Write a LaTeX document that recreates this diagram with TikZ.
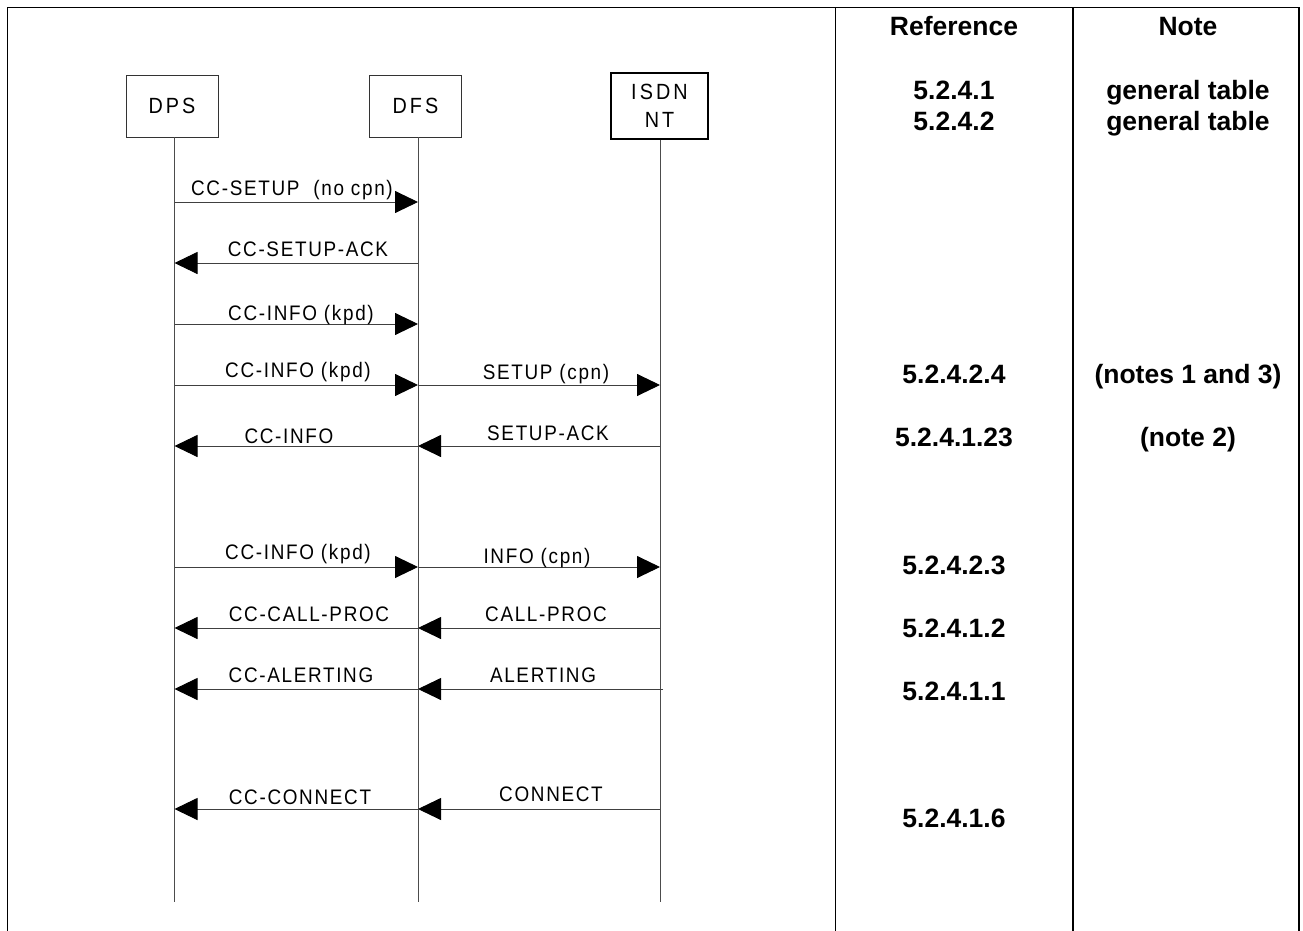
\documentclass[tikz,border=0pt]{standalone}
\usepackage{fontspec}
\setmainfont{Liberation Sans}
\newfontfamily\diag[FakeStretch=0.9,LetterSpace=8]{Liberation Sans}
\newfontfamily\boxfont[FakeStretch=0.9,LetterSpace=14]{Liberation Sans}
\usetikzlibrary{arrows.meta}
\begin{document}
\begin{tikzpicture}[x=1pt,y=-1pt,
  frame/.style={line width=1.6pt},
  life/.style={draw=black!70, line width=0.9pt},
  msg/.style={draw=black!75, line width=0.9pt, -{Triangle[length=23pt,width=22pt,fill=black,color=black]}},
  ent/.style={draw=black!80, line width=0.9pt, minimum width=92pt, minimum height=62pt, inner sep=0pt, font=\boxfont\fontsize{22}{27.5}\selectfont, align=center},
  lbl/.style={font=\diag\fontsize{21}{24}\selectfont, inner sep=0pt, text height=15pt, text depth=0pt},
  tbl/.style={font=\bfseries\fontsize{26.5}{30}\selectfont, inner sep=0pt, text height=19pt, text depth=0pt}]
\useasboundingbox (0,0) rectangle (1303,931);
% table frame
\draw[frame] (7.5,931) -- (7.5,7.5) -- (1299,7.5) -- (1299,931);
\draw[frame] (835.5,7.5) -- (835.5,931);
\draw[frame] (1073,7.5) -- (1073,931);
% table texts
\node[tbl] (hRef) at (954,26) {Reference};
\node[tbl] (hNote) at (1188,26) {Note};
\node[tbl] (r1a) at (954,90) {5.2.4.1};
\node[tbl] (r1b) at (954,121) {5.2.4.2};
\node[tbl] (n1a) at (1188,90) {general table};
\node[tbl] (n1b) at (1188,121) {general table};
\node[tbl] (r2) at (954,374) {5.2.4.2.4};
\node[tbl] (n2) at (1188,374) {(notes 1 and 3)};
\node[tbl] (r3) at (954,437) {5.2.4.1.23};
\node[tbl] (n3) at (1188,437) {(note 2)};
\node[tbl] (r4) at (954,565) {5.2.4.2.3};
\node[tbl] (r5) at (954,627.5) {5.2.4.1.2};
\node[tbl] (r6) at (954,691) {5.2.4.1.1};
\node[tbl] (r7) at (954,817.5) {5.2.4.1.6};
% entities
\node[ent] (dps) at (172,106) {DPS};
\node[ent] (dfs) at (415.5,106) {DFS};
\node[ent, line width=1.6pt, draw=black, minimum width=97pt, minimum height=66pt] (nt) at (659.5,106) {ISDN\\NT};
% lifelines
\coordinate (dpsB) at (174.5,902);
\coordinate (dfsB) at (418,902);
\coordinate (ntB) at (660,902);
\draw[life] (dpsB |- dps.south) -- (dpsB);
\draw[life] (dfsB |- dfs.south) -- (dfsB);
\draw[life] (ntB |- nt.south) -- (ntB);
% rows
\coordinate (m1) at (0,202);
\coordinate (m2) at (0,263);
\coordinate (m3) at (0,324);
\coordinate (m4) at (0,385);
\coordinate (m5) at (0,446);
\coordinate (m6) at (0,567);
\coordinate (m7) at (0,628);
\coordinate (m8) at (0,689);
\coordinate (m9) at (0,809);
% messages
\draw[msg] (dpsB |- m1) -- (dfsB |- m1);
\draw[msg] (dfsB |- m2) -- (dpsB |- m2);
\draw[msg] (dpsB |- m3) -- (dfsB |- m3);
\draw[msg] (dpsB |- m4) -- (dfsB |- m4);
\draw[msg] (dfsB |- m4) -- (ntB |- m4);
\draw[msg] (dfsB |- m5) -- (dpsB |- m5);
\draw[msg] (ntB |- m5) -- (dfsB |- m5);
\draw[msg] (dpsB |- m6) -- (dfsB |- m6);
\draw[msg] (dfsB |- m6) -- (ntB |- m6);
\draw[msg] (dfsB |- m7) -- (dpsB |- m7);
\draw[msg] (ntB |- m7) -- (dfsB |- m7);
\draw[msg] (dfsB |- m8) -- (dpsB |- m8);
\draw[msg, shorten <=-3pt] (ntB |- m8) -- (dfsB |- m8);
\draw[msg] (dfsB |- m9) -- (dpsB |- m9);
\draw[msg] (ntB |- m9) -- (dfsB |- m9);
% labels
\node[lbl] (l1) at (292,188) {CC-SETUP\ \ (no cpn)};
\node[lbl] (l2) at (308,249) {CC-SETUP-ACK};
\node[lbl] (l3) at (301,313) {CC-INFO (kpd)};
\node[lbl] (l4) at (298,370) {CC-INFO (kpd)};
\node[lbl] (l5) at (546,372) {SETUP (cpn)};
\node[lbl] (l6) at (289,436) {CC-INFO};
\node[lbl] (l7) at (548,433) {SETUP-ACK};
\node[lbl] (l8) at (298,552) {CC-INFO (kpd)};
\node[lbl] (l9) at (537,556) {INFO (cpn)};
\node[lbl] (l10) at (309,614) {CC-CALL-PROC};
\node[lbl] (l11) at (546,614) {CALL-PROC};
\node[lbl] (l12) at (301,675) {CC-ALERTING};
\node[lbl] (l13) at (543,675) {ALERTING};
\node[lbl] (l14) at (300,797) {CC-CONNECT};
\node[lbl] (l15) at (551,794) {CONNECT};
\end{tikzpicture}
\end{document}
